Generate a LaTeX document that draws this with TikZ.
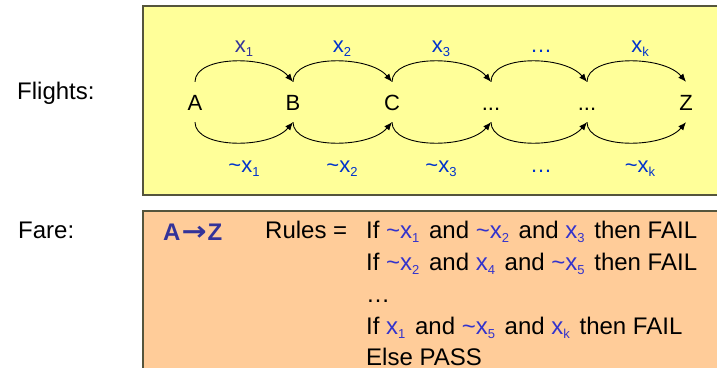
\documentclass[tikz,border=0pt]{standalone}
\usepackage{fontspec}
\usepackage{graphicx}
\setmainfont{Liberation Sans}
\newfontfamily\dejavu{DejaVu Sans}
\usetikzlibrary{arrows.meta}
\definecolor{yel}{HTML}{FFFF99}
\definecolor{ora}{HTML}{FFCC99}
\definecolor{edgec}{RGB}{85,85,60}
\definecolor{dblue}{HTML}{333399}
\definecolor{bblue}{HTML}{0033CC}
\definecolor{rblue}{HTML}{3333CC}
\newcommand\sbs[1]{\raisebox{-4.5pt}{\fontsize{13}{13}\selectfont #1}}
\newcommand\xv[1]{x\sbs{#1}}
\newcommand\nx[1]{\textasciitilde x\sbs{#1}}
\newcommand\bx[1]{\textcolor{rblue}{#1}\hspace{3pt}}
\begin{document}
\begin{tikzpicture}[x=1pt,y=-1pt,
  every node/.style={font=\fontsize{24}{28}\selectfont, inner sep=0pt},
  city/.style={font=\fontsize{22}{26}\selectfont, minimum height=40pt, inner sep=0pt, text height=16pt, text depth=0pt},
  lbl/.style={font=\fontsize{22}{26}\selectfont, inner sep=0pt, anchor=base, text=bblue},
  flight/.style={-{Latex[length=8pt,width=6.5pt]}, line width=0.9pt},
  box/.style={draw=edgec, line width=1.3pt},
  rule/.style={anchor=base west, inner sep=0pt}]
\useasboundingbox (0,0) rectangle (717,367);
\clip (0,0) rectangle (717,367);
\draw[box, fill=yel] (143,6) rectangle (730,195);
\draw[box, fill=ora] (143,211) rectangle (730,390);

\node[anchor=west] (fl) at (17,93) {Flights:};
\node[anchor=west] (fa) at (18,230) {Fare:};

\node[city] (A) at (195,102) {A};
\node[city] (B) at (293,102) {B};
\node[city] (C) at (392,102) {C};
\node[city] (D) at (491,102) {...};
\node[city] (E) at (587,102) {...};
\node[city] (Z) at (686,102) {Z};

\foreach \p/\q in {A/B,B/C,C/D,D/E,E/Z}{
  \draw[flight] (\p.north) .. controls +(0,-27) and +(-23,-27) .. (\q.north);
  \draw[flight] (\p.south) .. controls +(0,27) and +(-23,27) .. (\q.south);
}

\node[lbl, text=dblue] (t1) at (244,52) {\xv{1}};
\node[lbl] (t2) at (342,52) {\xv{2}};
\node[lbl] (t3) at (441,52) {\xv{3}};
\node[lbl] (t4) at (541,52) {…};
\node[lbl] (t5) at (640,52) {\xv{k}};
\node[lbl] (b1) at (244,172) {\nx{1}};
\node[lbl] (b2) at (342,172) {\nx{2}};
\node[lbl] (b3) at (441,172) {\nx{3}};
\node[lbl] (b4) at (541,172) {…};
\node[lbl] (b5) at (640,172) {\nx{k}};

\node[rule, text=dblue, font=\fontsize{24}{28}\selectfont\bfseries] (az) at (163,240) {A\hspace{1pt}{\dejavu\bfseries\scalebox{1.25}[1.1]{→}}\hspace{1pt}Z};
\node[rule] (rl) at (265,238) {Rules =};
\node[rule] (r1) at (366,238) {If \bx{\nx{1}} and \bx{\nx{2}} and \bx{\xv{3}} then FAIL};
\node[rule] (r2) at (366,270) {If \bx{\nx{2}} and \bx{\xv{4}} and \bx{\nx{5}} then FAIL};
\node[rule] (r3) at (366,302) {…};
\node[rule] (r4) at (366,334) {If \bx{\xv{1}} and \bx{\nx{5}} and \bx{\xv{k}} then FAIL};
\node[rule] (r5) at (366,365) {Else PASS};
\end{tikzpicture}
\end{document}
